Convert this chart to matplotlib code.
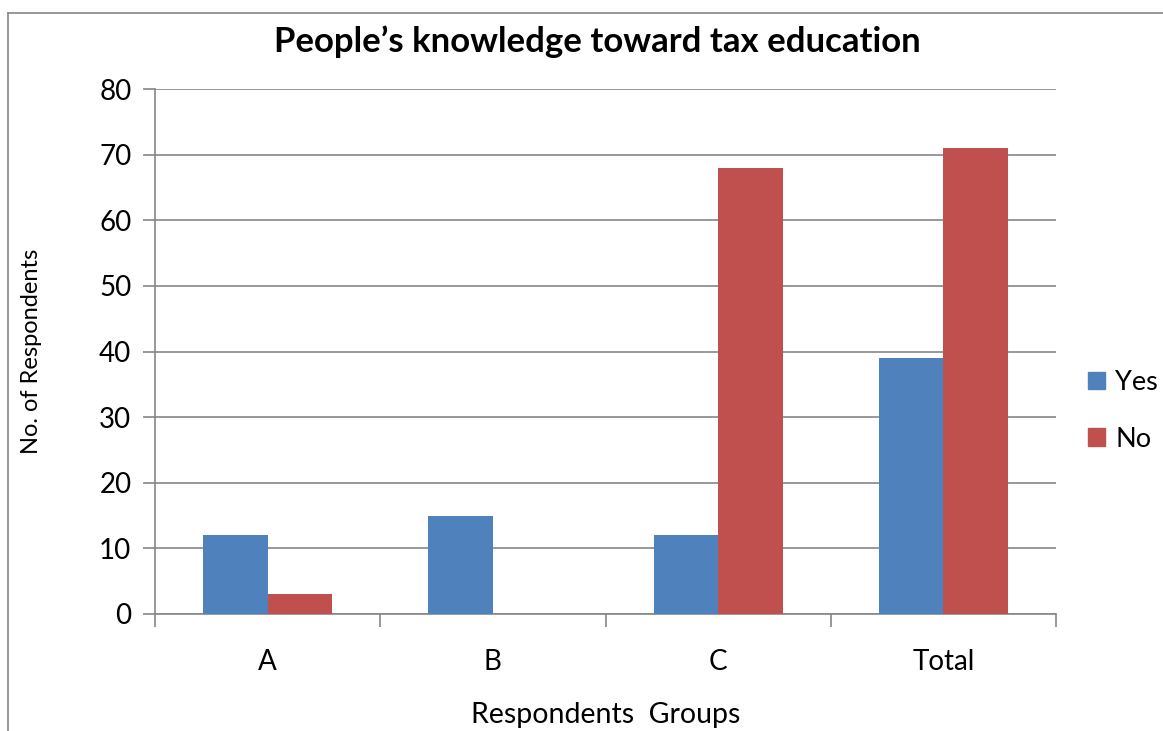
import matplotlib
matplotlib.use("Agg")
import matplotlib.pyplot as plt
from matplotlib.lines import Line2D
import numpy as np

categories = ["A", "B", "C", "Total"]
yes_values = [12, 15, 12, 39]
no_values = [3, 0, 68, 71]
yticks = [0, 10, 20, 30, 40, 50, 60, 70, 80]

plt.rcParams['font.family'] = ['Lato', 'DejaVu Sans']

W, H = 1163, 731
fig = plt.figure(figsize=(W/100, H/100), dpi=100)
ax = fig.add_axes([155/W, 1-614/H, (1056-155)/W, (614-89)/H])

x = np.arange(len(categories))
bw = 0.286
blue = "#4F81BD"
red = "#C0504D"
ax.bar(x - bw/2, yes_values, bw, color=blue, label="Yes", zorder=3)
ax.bar(x + bw/2, no_values, bw, color=red, label="No", zorder=3)

ax.set_xlim(-0.5, 3.5)
ax.set_ylim(0, 80)
ax.set_yticks(yticks)
ax.set_yticklabels([str(v) for v in yticks], fontsize=20)
ax.yaxis.grid(True, color="#868686", linewidth=1.2, zorder=0)
ax.set_axisbelow(True)

ax.set_xticks(x)
ax.set_xticklabels(categories, fontsize=20)
ax.tick_params(axis='x', length=0, pad=25)
ax.set_xticks(np.arange(-0.5, 4.0, 1.0), minor=True)
ax.tick_params(axis='x', which='minor', length=9, width=1.2, color="#868686")
ax.tick_params(axis='y', length=9, width=1.2, color="#868686", pad=8)

for s in ['top', 'right']:
    ax.spines[s].set_visible(False)
for s in ['left', 'bottom']:
    ax.spines[s].set_color("#868686")
    ax.spines[s].set_linewidth(1.2)

fig.text(597/W, 1-42/H, "People\u2019s knowledge toward tax education",
         fontsize=25, fontweight='bold', ha='center', va='center')
fig.text(32/W, 1-351/H, "No. of Respondents", fontsize=17, rotation=90,
         ha='center', va='center')
fig.text(606/W, 1-715/H, "Respondents  Groups", fontsize=20.5,
         ha='center', va='center')

fig.legend(handles=[plt.Rectangle((0, 0), 1, 1, color=blue),
                    plt.Rectangle((0, 0), 1, 1, color=red)],
           labels=["Yes", "No"], loc='center left',
           bbox_to_anchor=(1064/W, 1-411/H), frameon=False, fontsize=19.5,
           handlelength=0.6, handleheight=0.6, handletextpad=0.4,
           labelspacing=1.15)

# outer chart frame
fig.add_artist(Line2D([8/W, 8/W], [0, 1-13/H], color="#868686", linewidth=1.2,
                      transform=fig.transFigure))
fig.add_artist(Line2D([8/W, 1], [1-13/H, 1-13/H], color="#868686", linewidth=1.2,
                      transform=fig.transFigure))

fig.savefig("out.png", dpi=100)
